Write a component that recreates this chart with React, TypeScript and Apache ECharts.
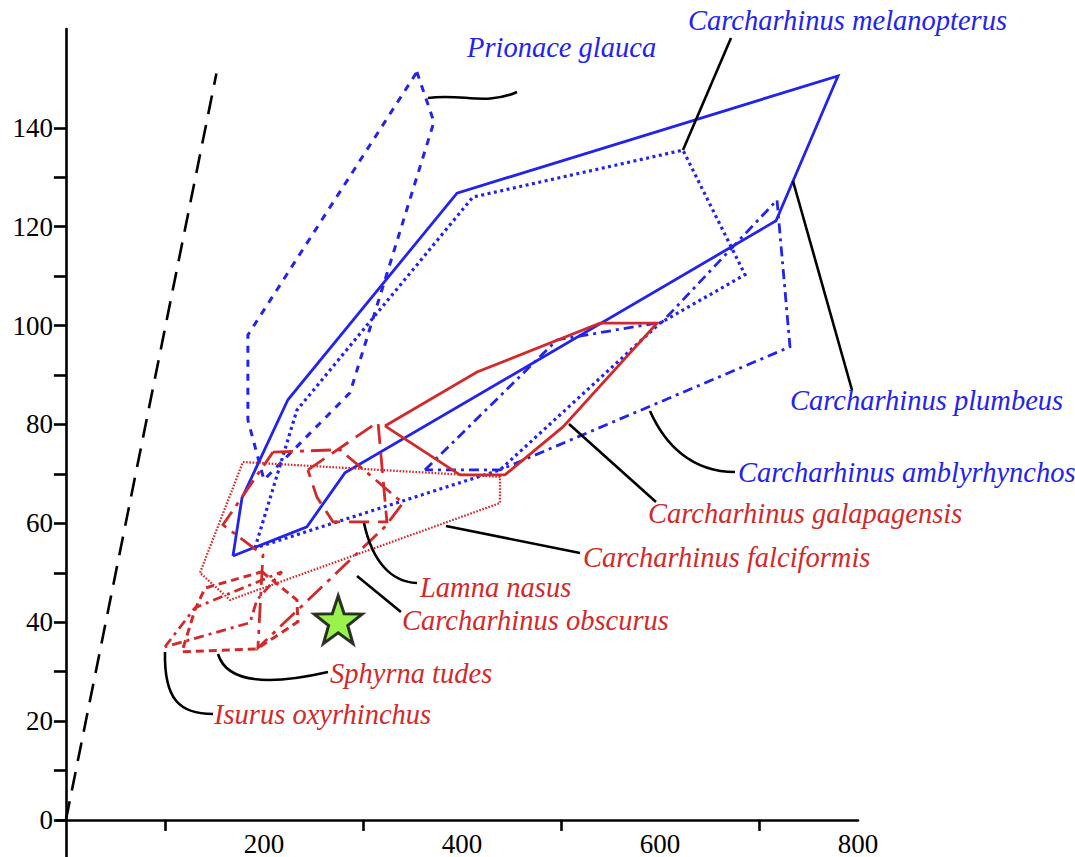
import React, { useEffect, useRef } from "react";
import * as echarts from "echarts";

// ---- data (x, y) ----
const plumbeus = [[168.7, 53.4], [177.8, 65.1], [224.2, 85.0], [395.0, 126.8], [779.8, 150.5], [717.2, 121.2], [281.8, 70.2], [243.4, 59.3]];
const melanopterus = [[190.9, 55.0], [233.3, 82.9], [411.1, 126.0], [623.2, 135.5], [685.9, 110.3], [600.0, 100.5], [438.4, 70.8]];
const amblyrhynchos = [[362.6, 70.8], [496.0, 97.1], [602.0, 100.7], [718.2, 125.4], [731.3, 95.7], [438.4, 70.8]];
const prionace = [[354.5, 151.3], [371.7, 141.2], [286.9, 86.4], [200.0, 68.8], [183.8, 80.9], [183.8, 98.1]];
const galapagensis = [[322.2, 79.7], [415.2, 90.6], [539.4, 100.5], [597.0, 100.5], [502.0, 79.5], [443.4, 69.8], [398.0, 69.8]];
const falciformis = [[178.8, 72.4], [438.4, 69.4], [438.4, 64.1], [165.7, 44.5], [135.4, 50.0]];
const lamna = [[244.4, 70.8], [315.2, 80.5], [324.2, 60.3], [269.7, 60.3], [253.5, 65.3]];
const obscurus = [[209.1, 74.4], [276.8, 74.9], [340.4, 64.1], [322.2, 59.3], [193.9, 34.8], [199.0, 53.6], [158.6, 59.7]];
const sphyrna = [[198.0, 50.2], [233.3, 44.5], [234.3, 40.1], [192.9, 34.6], [117.2, 34.0], [130.3, 42.5], [140.4, 46.9]];
const isurus = [[100.0, 35.0], [130.3, 42.9], [218.2, 50.2], [192.9, 44.5], [185.9, 39.9]];
const refLine = [[0, 0], [152, 151]];
const starPoint = [[275, 40.5]];

const xTickValues = [100, 300, 500, 700];
const xLabelValues = [200, 400, 600, 800];
const yTickValues = [0, 10, 20, 30, 40, 50, 60, 70, 80, 90, 100, 110, 120, 130, 140];
const yLabelValues = [0, 20, 40, 60, 80, 100, 120, 140];

const BLUE = "#2323ee";
const RED = "#d22a2a";

function closed(p: number[][]) {
  return [...p, p[0]];
}

function starPath() {
  const pts: string[] = [];
  for (let i = 0; i < 10; i++) {
    const a = (-90 + i * 36) * Math.PI / 180;
    const r = i % 2 === 0 ? 50 : 20;
    pts.push(`${(50 + r * Math.cos(a)).toFixed(2)} ${(50 + r * Math.sin(a)).toFixed(2)}`);
  }
  return "path://M" + pts.join(" L") + " Z";
}

export default function App() {
  const ref = useRef<HTMLDivElement>(null);
  useEffect(() => {
    document.body.style.margin = "0";
    const chart = echarts.init(ref.current!, null, { renderer: "svg" });

    const poly = (name: string, data: number[][], color: string, type: any, width: number) => ({
      name,
      type: "line",
      data: closed(data),
      symbol: "none",
      silent: true,
      lineStyle: { color, width, type, cap: "butt", join: "miter" },
      z: 3,
    });

    const axisFont = { fontSize: 27, fontFamily: "Liberation Serif", color: "#000" };
    const lbl = (text: string, x: number, y: number, color: string) => ({
      type: "text",
      style: {
        text, x, y, fill: color,
        font: 'italic 28.5px "Liberation Serif"',
        textAlign: "left", textVerticalAlign: "middle",
      },
      z: 10,
    });
    const conn = (x1: number, y1: number, x2: number, y2: number) => ({
      type: "line",
      shape: { x1, y1, x2, y2 },
      style: { stroke: "#000", lineWidth: 2.6 },
      z: 10,
    });
    const curve = (x1: number, y1: number, cx1: number, cy1: number, cx2: number, cy2: number, x2: number, y2: number) => ({
      type: "bezierCurve",
      shape: { x1, y1, cpx1: cx1, cpy1: cy1, cpx2: cx2, cpy2: cy2, x2, y2 },
      style: { stroke: "#000", lineWidth: 2.6, fill: "none" },
      z: 10,
    });

    chart.setOption({
      animation: false,
      backgroundColor: "#fff",
      grid: { left: 57, right: 217, top: 29, bottom: 0, containLabel: false, outerBoundsMode: "none" },
      xAxis: {
        type: "value",
        min: -9,
        max: 800,
        splitLine: { show: false },
        axisLine: { onZero: true, lineStyle: { color: "#000", width: 2.6 } },
        axisTick: { show: true, customValues: xTickValues, length: 11, lineStyle: { color: "#000", width: 2.6 } },
        axisLabel: { customValues: xLabelValues, margin: -27, ...axisFont },
      },
      yAxis: {
        type: "value",
        min: -7.5,
        max: 160,
        splitLine: { show: false },
        axisLine: { onZero: true, lineStyle: { color: "#000", width: 2.6 } },
        axisTick: { show: true, customValues: yTickValues, length: 12, lineStyle: { color: "#000", width: 2.6 } },
        axisLabel: { customValues: yLabelValues, margin: 4, ...axisFont },
      },
      series: [
        {
          type: "line",
          data: refLine,
          symbol: "none",
          lineStyle: { color: "#000", width: 2.6, type: [19, 11] },
          z: 2,
        },
        poly("Prionace glauca", prionace, BLUE, [7, 7], 3),
        poly("Carcharhinus melanopterus", melanopterus, BLUE, [3, 3.5], 3.2),
        poly("Carcharhinus plumbeus", plumbeus, BLUE, "solid", 2.8),
        poly("Carcharhinus amblyrhynchos", amblyrhynchos, BLUE, [10, 5, 3, 5], 2.8),
        poly("Carcharhinus galapagensis", galapagensis, RED, "solid", 2.8),
        poly("Carcharhinus falciformis", falciformis, RED, [1.6, 1.6], 2.3),
        poly("Lamna nasus", lamna, RED, [20, 9], 2.8),
        poly("Carcharhinus obscurus", obscurus, RED, [20, 7, 4, 7], 2.8),
        poly("Sphyrna tudes", sphyrna, RED, [8, 5], 3),
        poly("Isurus oxyrhinchus", isurus, RED, [10, 5, 3, 5], 2.8),
        {
          type: "scatter",
          data: starPoint,
          symbol: starPath(),
          symbolSize: 48,
          itemStyle: { color: "#80f020", borderColor: "#000", borderWidth: 3 },
          z: 5,
        },
      ],
      graphic: [
        curve(428, 98, 462, 93, 485, 106, 517, 92),
        conn(683, 150, 731, 38),
        conn(793, 181, 852, 390),
        curve(650, 411, 665, 445, 692, 472, 735, 472),
        conn(569, 424, 656, 502),
        conn(446, 526, 580, 553),
        curve(364, 523, 372, 560, 390, 582, 417, 583),
        conn(357, 576, 401, 612),
        curve(218, 654, 228, 687, 280, 683, 328, 672),
        curve(165, 652, 164, 700, 180, 714, 213, 714),
        lbl("Prionace glauca", 467, 47, BLUE),
        lbl("Carcharhinus melanopterus", 688, 20, BLUE),
        lbl("Carcharhinus plumbeus", 790, 400, BLUE),
        lbl("Carcharhinus amblyrhynchos", 738, 472, BLUE),
        lbl("Carcharhinus galapagensis", 648, 513, RED),
        lbl("Carcharhinus falciformis", 583, 557, RED),
        lbl("Lamna nasus", 420, 587, RED),
        lbl("Carcharhinus obscurus", 402, 620, RED),
        lbl("Sphyrna tudes", 330, 673, RED),
        lbl("Isurus oxyrhinchus", 214, 714, RED),
      ],
    });
    return () => chart.dispose();
  }, []);
  return <div ref={ref} style={{ width: 1075, height: 857 }} />;
}
